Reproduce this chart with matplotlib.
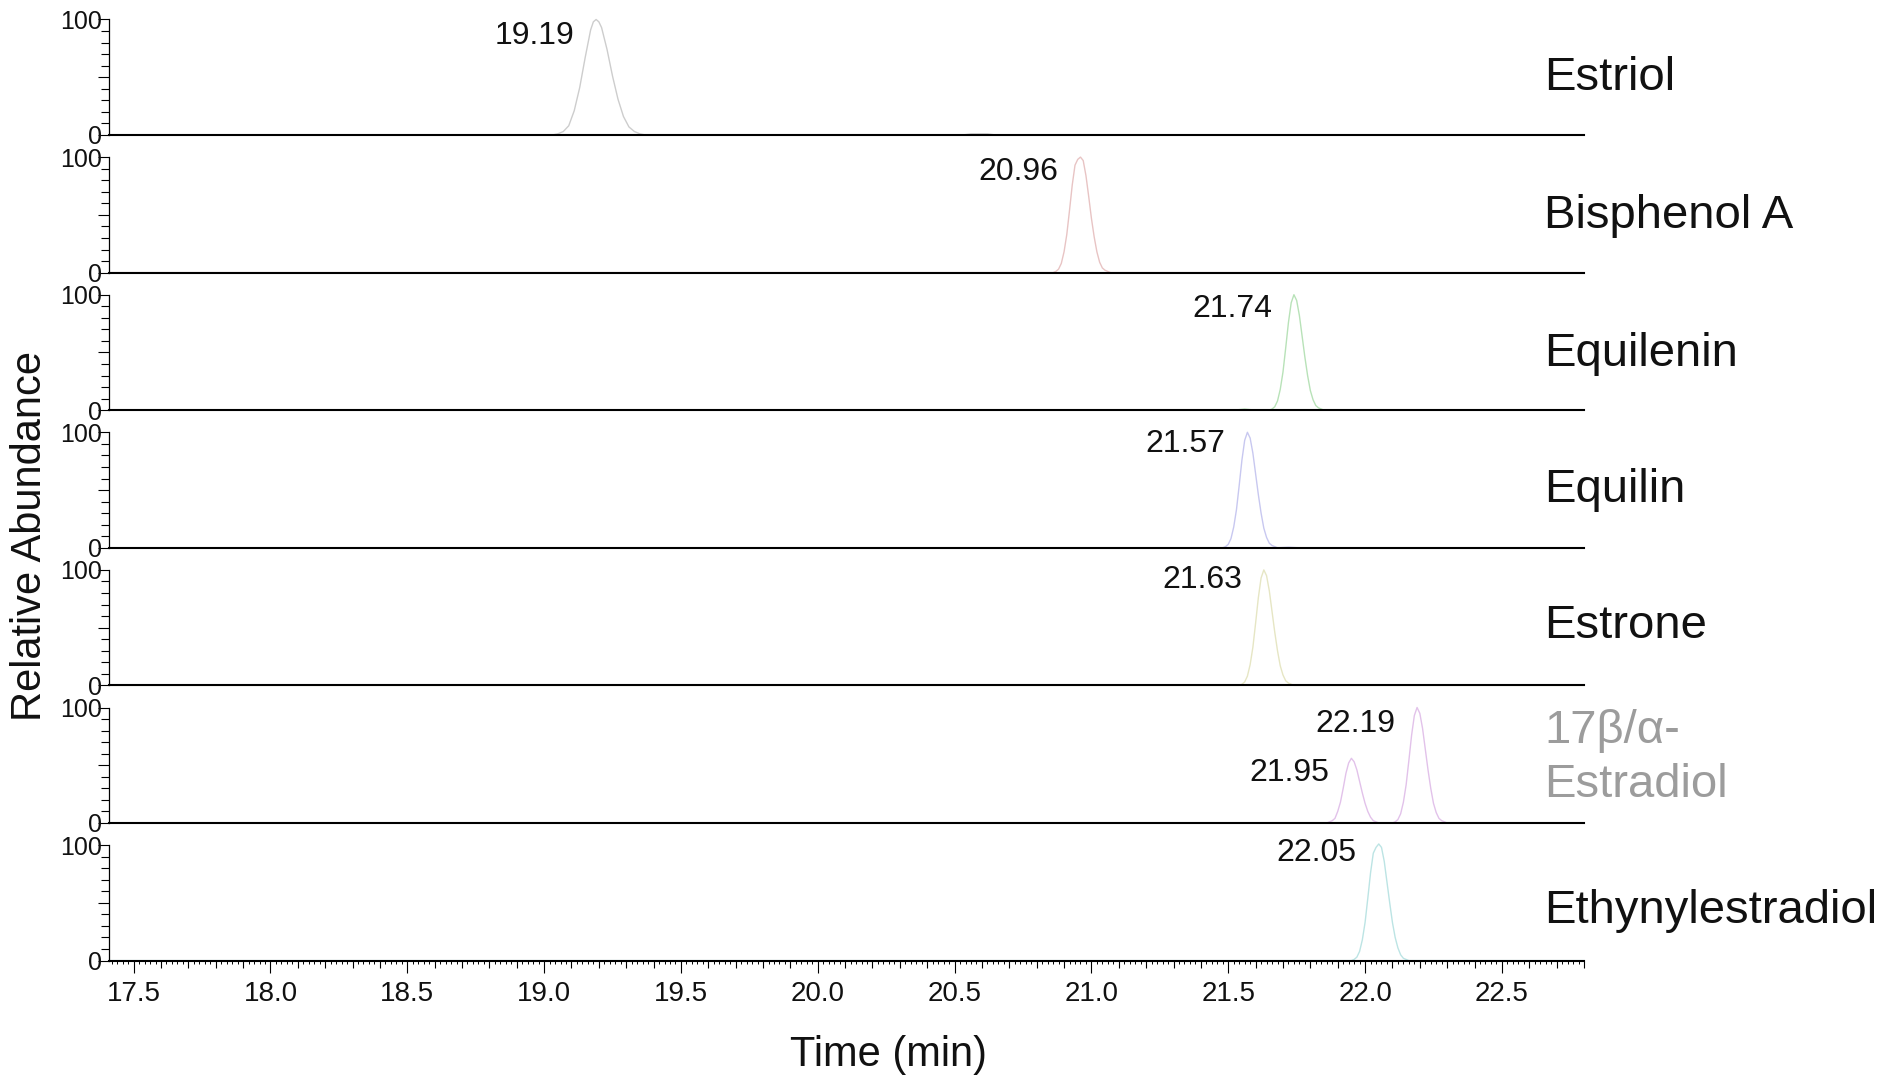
import numpy as np
import matplotlib
matplotlib.use("Agg")
import matplotlib.pyplot as plt
from matplotlib.ticker import MultipleLocator, FormatStrFormatter

plt.rcParams['font.family'] = ['Liberation Sans', 'DejaVu Sans']

# compound names, top to bottom
names = ['Estriol', 'Bisphenol A', 'Equilenin', 'Equilin', 'Estrone',
         '17β/α-\nEstradiol', 'Ethynylestradiol']
colors = ['#cdcdcd', '#e8c4c4', '#b8e2b8', '#c8c8f0', '#e6e6c4', '#e2c2ea', '#bce4e4']
name_y = [49, 49, 49, 50, 51, 56, 43]

# traces: time (min) and relative abundance (%)
estriol_t = [17.41, 19.03, 19.05, 19.07, 19.09, 19.11, 19.13, 19.15, 19.17, 19.18, 19.19,
             19.20, 19.21, 19.23, 19.25, 19.27, 19.29, 19.31, 19.33, 19.35, 19.37,
             20.53, 20.56, 20.59, 20.62, 20.65, 22.8]
estriol_y = [0, 0, 1, 3, 8, 21, 41, 67, 91, 98, 100,
             98, 93, 74, 51, 31, 16, 7, 3, 1, 0,
             0, 1, 1, 1, 0, 0]

bpa_t = [17.41, 20.86, 20.87, 20.88, 20.89, 20.90, 20.91, 20.92, 20.93, 20.94, 20.95, 20.96,
         20.97, 20.98, 20.99, 21.00, 21.01, 21.02, 21.03, 21.04, 21.05, 21.06, 21.07, 22.8]
bpa_y = [0, 0, 1, 3, 8, 18, 33, 54, 76, 93, 98, 100,
         97, 84, 66, 47, 31, 18, 9, 4, 2, 1, 0, 0]

equilenin_t = [17.41, 21.52, 21.56, 21.60, 21.65, 21.66, 21.67, 21.68, 21.69, 21.70, 21.71,
               21.72, 21.73, 21.74, 21.75, 21.76, 21.77, 21.78, 21.79, 21.80, 21.81,
               21.82, 21.83, 21.84, 21.85, 22.8]
equilenin_y = [0, 0, 1, 0, 0, 1, 3, 8, 18, 33, 54,
               76, 93, 100, 95, 82, 64, 46, 30, 17, 9,
               4, 2, 1, 0, 0]

equilin_t = [17.41, 21.48, 21.49, 21.50, 21.51, 21.52, 21.53, 21.54, 21.55, 21.56, 21.57,
             21.58, 21.59, 21.60, 21.61, 21.62, 21.63, 21.64, 21.65, 21.66, 21.67,
             21.68, 21.72, 21.76, 22.8]
equilin_y = [0, 0, 1, 3, 8, 18, 33, 54, 76, 93, 100,
             95, 82, 64, 46, 30, 17, 9, 4, 2, 1,
             0, 0.5, 0, 0]

estrone_t = [17.41, 21.54, 21.55, 21.56, 21.57, 21.58, 21.59, 21.60, 21.61, 21.62, 21.63,
             21.64, 21.65, 21.66, 21.67, 21.68, 21.69, 21.70, 21.71, 21.72, 21.73,
             21.74, 22.8]
estrone_y = [0, 0, 1, 3, 8, 18, 33, 54, 76, 93, 100,
             95, 82, 64, 46, 30, 17, 9, 4, 2, 1,
             0, 0]

estradiol_t = [17.41, 21.86, 21.87, 21.88, 21.89, 21.90, 21.91, 21.92, 21.93, 21.94, 21.95,
               21.96, 21.97, 21.98, 21.99, 22.00, 22.01, 22.02, 22.03, 22.04, 22.05,
               22.10, 22.11, 22.12, 22.13, 22.14, 22.15, 22.16, 22.17, 22.18, 22.19,
               22.20, 22.21, 22.22, 22.23, 22.24, 22.25, 22.26, 22.27, 22.28, 22.29,
               22.30, 22.8]
estradiol_y = [0, 0, 1, 2, 4, 10, 18, 30, 43, 52, 56,
               53, 46, 36, 26, 17, 10, 5, 2, 1, 0,
               0, 1, 3, 8, 18, 33, 54, 76, 93, 100,
               95, 82, 64, 46, 30, 17, 9, 4, 2, 1,
               0, 0]

ethynyl_t = [17.41, 21.95, 21.96, 21.97, 21.98, 21.99, 22.00, 22.01, 22.02, 22.03, 22.04, 22.05,
             22.06, 22.07, 22.08, 22.09, 22.10, 22.11, 22.12, 22.13, 22.14, 22.15,
             22.16, 22.8]
ethynyl_y = [0, 0, 1, 3, 8, 18, 33, 54, 76, 93, 98, 101,
             98, 86, 68, 50, 33, 20, 11, 5, 2, 1,
             0, 0]

traces = [(estriol_t, estriol_y), (bpa_t, bpa_y), (equilenin_t, equilenin_y),
          (equilin_t, equilin_y), (estrone_t, estrone_y), (estradiol_t, estradiol_y),
          (ethynyl_t, ethynyl_y)]

# peak labels: (panel, retention time, label height)
peak_panel = [0, 1, 2, 3, 4, 5, 5, 6]
peak_rt = [19.19, 20.96, 21.74, 21.57, 21.63, 21.95, 22.19, 22.05]
peak_label_y = [86, 87, 88, 90, 91, 43, 86, 93]

W, H = 1887, 1078
fig = plt.figure(figsize=(W / 100, H / 100), dpi=100)

left_px, right_px = 109, 1584
zero0, pitch, unit = 135, 137.6, 115.5
ytop = 105

axes = []
for k in range(7):
    zero_px = zero0 + pitch * k
    h_px = unit * ytop / 100
    ax = fig.add_axes([left_px / W, 1 - zero_px / H, (right_px - left_px) / W, h_px / H])
    ax.set_xlim(17.41, 22.8)
    ax.set_ylim(0, ytop)
    ax.spines['top'].set_visible(False)
    ax.spines['right'].set_visible(False)
    ax.spines['left'].set_bounds(0, 100)
    ax.spines['left'].set_linewidth(0.9)
    ax.spines['bottom'].set_linewidth(1.5)
    ax.set_yticks([0, 50, 100])
    ax.set_yticklabels(['0', '', '100'])
    ax.yaxis.set_minor_locator(MultipleLocator(10))
    ax.tick_params(axis='y', which='major', length=8, width=0.8, labelsize=18,
                   pad=-3, labelcolor='#111111')
    ax.tick_params(axis='y', which='minor', length=5.5, width=0.8)
    ax.tick_params(axis='x', which='both', bottom=False, labelbottom=False)
    ax.patch.set_alpha(0)

    t, y = traces[k]
    ax.plot(t, y, color=colors[k], lw=1.0, clip_on=False)

    txt_color = '#9c9c9c' if k == 5 else '#111111'
    ax.text(22.655, name_y[k], names[k], fontsize=34, ha='left', va='center',
            color=txt_color, linespacing=1.3)
    axes.append(ax)

for p, rt, ly in zip(peak_panel, peak_rt, peak_label_y):
    axes[p].text(rt - 0.08, ly, f'{rt:.2f}', fontsize=23, ha='right', va='center',
                 color='#111111')

# bottom time axis with three tick levels
axb = axes[-1]
axb.xaxis.set_major_locator(MultipleLocator(0.5))
axb.xaxis.set_minor_locator(MultipleLocator(0.1))
axb.xaxis.set_major_formatter(FormatStrFormatter('%.1f'))
axb.tick_params(axis='x', which='major', bottom=True, labelbottom=True, length=8.6,
                width=0.8, labelsize=20, pad=6, labelcolor='#111111')
axb.tick_params(axis='x', which='minor', bottom=True, length=5, width=0.8)

sec = axb.secondary_xaxis('bottom', functions=(lambda x: x, lambda x: x))
sec.spines['bottom'].set_visible(False)
sec.xaxis.set_major_locator(MultipleLocator(0.02))
sec.tick_params(axis='x', which='major', length=2.5, width=0.7, labelbottom=False)
sec.tick_params(axis='x', which='minor', bottom=False)

fig.text(0.4707, 0.0213, 'Time (min)', fontsize=30, ha='center', va='center',
         color='#111111')
fig.text(0.016, 0.503, 'Relative Abundance', fontsize=30, ha='center', va='center',
         rotation=90, color='#111111')

fig.savefig('out.png', dpi=100, facecolor='white')
